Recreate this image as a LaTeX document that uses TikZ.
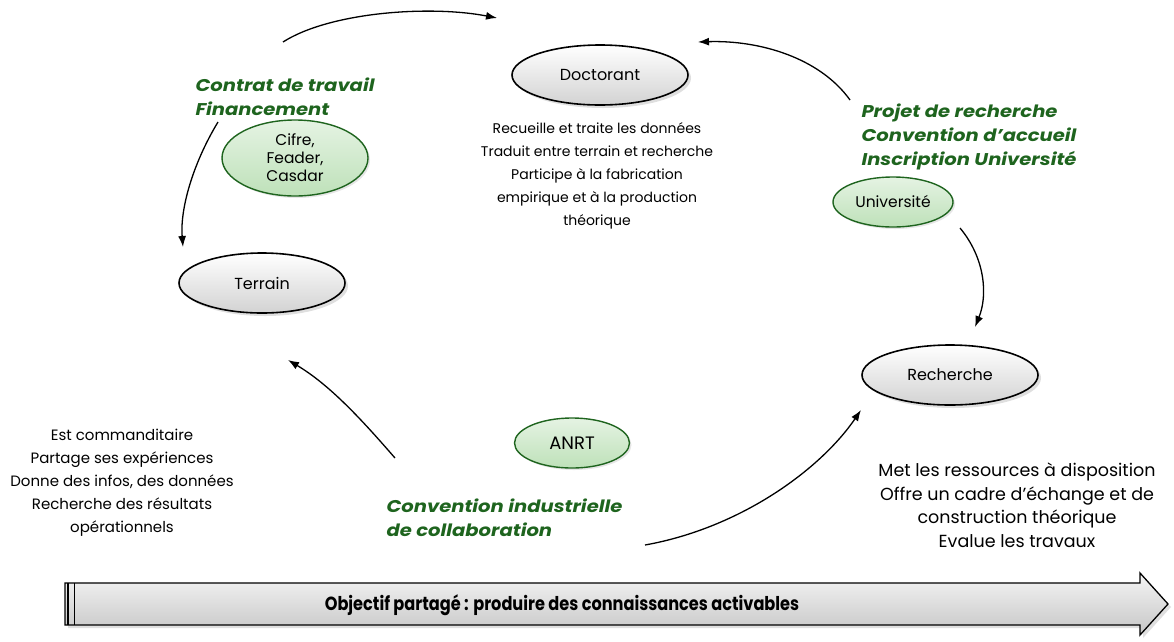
\documentclass[tikz,border=0pt]{standalone}
\usepackage{fontspec}
\setmainfont{Poppins}
\newfontfamily\bannerfont[FakeStretch=0.85]{Poppins}
\newfontfamily\lienfont[FakeStretch=1.15]{Poppins}
\usetikzlibrary{arrows.meta,shapes.geometric,shadows}
\definecolor{vertfonce}{RGB}{30,100,30}
\definecolor{vertclair}{RGB}{190,225,185}

\begin{document}
\begin{tikzpicture}[x=1pt,y=-1pt,
  acteur/.style={ellipse,draw=black,line width=1.6pt,top color=white,bottom color=gray!35,
    drop shadow={shadow xshift=3pt,shadow yshift=-3pt,opacity=0.25},
    minimum width=176pt,minimum height=60pt,inner sep=0pt,font=\fontsize{16}{19}\selectfont},
  support/.style={ellipse,draw=vertfonce,line width=1.4pt,top color=vertclair!40,bottom color=vertclair,
    drop shadow={shadow xshift=2pt,shadow yshift=-2pt,opacity=0.2},
    inner sep=0pt,align=center,font=\fontsize{15.5}{18}\selectfont},
  role/.style={align=center,font=\fontsize{14}{23}\selectfont},
  lien/.style={align=left,anchor=north west,text=vertfonce,font=\lienfont\fontsize{17}{24}\selectfont\bfseries\itshape},
  fleche/.style={-{Latex[length=11pt,width=8pt]},line width=1.3pt}]
  \useasboundingbox (0,0) rectangle (1174,641);

  % Acteurs
  \node[acteur] (doctorant) at (600,75) {Doctorant};
  \node[acteur,minimum width=166pt] (terrain) at (262,283) {Terrain};
  \node[acteur] (recherche) at (950,375) {Recherche};

  % Structures de financement / accueil
  \node[support,minimum width=146pt,minimum height=76pt] (cifre) at (295,158) {Cifre,\\Feader,\\Casdar};
  \node[support,minimum width=120pt,minimum height=50pt] (universite) at (893,202) {Université};
  \node[support,minimum width=115pt,minimum height=50pt,font=\fontsize{18}{20}\selectfont] (anrt) at (572,443) {ANRT};

  % Roles
  \node[role] (roledoc) at (597,176) {Recueille et traite les données\\Traduit entre terrain et recherche\\Participe à la fabrication\\empirique et à la production\\théorique};
  \node[role,font=\fontsize{15}{23}\selectfont] (roleterrain) at (122,483) {Est commanditaire\\Partage ses expériences\\Donne des infos, des données\\Recherche des résultats\\opérationnels};
  \node[role,font=\fontsize{17.5}{23.5}\selectfont] (rolerecherche) at (1017,505) {Met les ressources à disposition\\Offre un cadre d’échange et de\\construction théorique\\Evalue les travaux};

  % Liens contractuels
  \node[lien] (contrat) at (192,74) {Contrat de travail\\Financement};
  \node[lien] (projet) at (858,100) {Projet de recherche\\Convention d’accueil\\Inscription Université};
  \node[lien] (convention) at (383,495) {Convention industrielle\\de collaboration};

  % Fleches
  \coordinate (a1) at (283,42);  \coordinate (b1) at (497,18);
  \coordinate (a2) at (218,122); \coordinate (b2) at (183,247);
  \coordinate (a3) at (850,100); \coordinate (b3) at (698,42);
  \coordinate (a4) at (960,228); \coordinate (b4) at (975,327);
  \coordinate (a5) at (395,458); \coordinate (b5) at (288,360);
  \coordinate (a6) at (645,545); \coordinate (b6) at (861,410);
  \draw[fleche] (a1) .. controls (330,12) and (430,5) .. (b1);
  \draw[fleche] (a2) .. controls (192,165) and (180,210) .. (b2);
  \draw[fleche] (a3) .. controls (820,58) and (760,40) .. (b3);
  \draw[fleche] (a4) .. controls (985,258) and (988,295) .. (b4);
  \draw[fleche] (a5) .. controls (362,420) and (330,385) .. (b5);
  \draw[fleche] (a6) .. controls (740,528) and (820,470) .. (b6);

  % Bandeau objectif
  \draw[line width=1.3pt,top color=gray!8,bottom color=gray!45,
    drop shadow={shadow xshift=3pt,shadow yshift=-3pt,opacity=0.25}]
    (65,583) -- (1140,583) -- (1140,573) -- (1168,604) -- (1140,635) -- (1140,625) -- (65,625) -- cycle;
  \draw[line width=2.5pt] (68,583) -- (68,625);
  \draw[line width=1pt] (74,583) -- (74,625);
  \node[font=\bannerfont\fontsize{19}{22}\selectfont\bfseries] (objectif) at (562,605)
    {Objectif partagé : produire des connaissances activables};
\end{tikzpicture}
\end{document}
